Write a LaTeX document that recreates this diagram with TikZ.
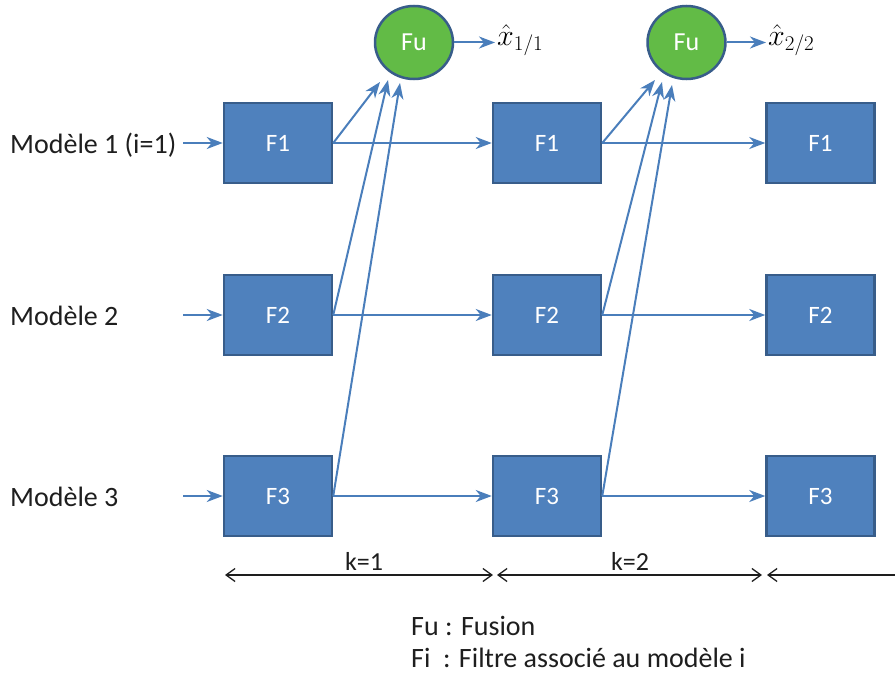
\RequirePackage{fix-cm}
\documentclass[tikz,border=0pt]{standalone}
\usepackage{fontspec}
\setmainfont{Carlito}
\usetikzlibrary{arrows.meta,shapes.geometric}
\definecolor{boxfill}{HTML}{4F81BD}
\definecolor{boxdraw}{HTML}{385D8A}
\definecolor{arr}{HTML}{4A7EBB}
\definecolor{fugreen}{HTML}{62BB46}
\definecolor{txt}{HTML}{1E1E1E}
\tikzset{dimtip/.tip={Straight Barb[length=9pt,width=13pt,line width=1.3pt]}}
\begin{document}
\begin{tikzpicture}[x=1pt,y=-1pt,
  filt/.style={rectangle, draw=boxdraw, fill=boxfill, line width=2.5pt,
    minimum width=108pt, minimum height=80pt, inner sep=0pt, text=white,
    font=\fontsize{25}{28}\selectfont},
  fus/.style={ellipse, draw=boxdraw, fill=fugreen, line width=2.5pt,
    minimum width=78pt, minimum height=73pt, inner sep=0pt, text=white,
    font=\fontsize{26}{28}\selectfont},
  conn/.style={draw=arr, line width=2pt, -{Stealth[length=16pt,width=12pt,inset=5pt]}},
  dim/.style={draw=txt, line width=1.3pt},
  lbl/.style={text=txt, inner sep=0pt, font=\fontsize{28}{32}\selectfont},
  klbl/.style={text=txt, inner sep=0pt, font=\fontsize{26}{30}\selectfont},
  mlbl/.style={text=black, inner sep=0pt, font=\fontsize{30}{34}\selectfont}]
\useasboundingbox (0,0) rectangle (895,677);

% filters
\foreach \c/\x in {1/278,2/547,3/820.5}{
  \node[filt] (f1\c) at (\x,143) {F1};
  \node[filt] (f2\c) at (\x,315) {F2};
  \node[filt] (f3\c) at (\x,496) {F3};
}

% fusion nodes
\node[fus] (fu1) at (414,42.5) {Fu};
\node[fus] (fu2) at (686.5,42.5) {Fu};

% estimate labels
\node[mlbl, anchor=west] (x1) at (497,40) {$\hat{x}_{1/1}$};
\node[mlbl, anchor=west] (x2) at (768,40) {$\hat{x}_{2/2}$};
\draw[conn] (fu1.east) -- ([xshift=-2pt]x1.west |- fu1.east);
\draw[conn] (fu2.east) -- ([xshift=-2pt]x2.west |- fu2.east);

% model labels
\node[lbl, anchor=west] (m1) at (10,145) {Modèle 1 (i=1)};
\node[lbl, anchor=west] (m2) at (10,316) {Modèle 2};
\node[lbl, anchor=west] (m3) at (10,497) {Modèle 3};
\coordinate (s1) at (183,143);
\coordinate (s2) at (183,315);
\coordinate (s3) at (183,496);
\draw[conn] (s1) -- (f11.west);
\draw[conn] (s2) -- (f21.west);
\draw[conn] (s3) -- (f31.west);

% horizontal transitions
\foreach \r in {1,2,3}{
  \draw[conn] (f\r1.east) -- (f\r2.west);
  \draw[conn] (f\r2.east) -- (f\r3.west);
}

% arrow ends at fusion nodes
\coordinate (a11) at (380,82);
\coordinate (a21) at (388,80);
\coordinate (a31) at (400,83);
\coordinate (a12) at (655,80);
\coordinate (a22) at (662,82);
\coordinate (a32) at (672,85);
\foreach \r in {1,2,3}{
  \draw[conn] (f\r1.east) -- (a\r1);
  \draw[conn] (f\r2.east) -- (a\r2);
}

% time axis
\coordinate (d0) at (225,575);
\coordinate (d1) at (493,575);
\coordinate (d2) at (497,575);
\coordinate (d3) at (762,575);
\coordinate (d4) at (767,575);
\coordinate (d5) at (897,575);
\draw[dim, {dimtip}-{dimtip}] (d0) -- (d1);
\draw[dim, {dimtip}-{dimtip}] (d2) -- (d3);
\draw[dim, {dimtip}-] (d4) -- (d5);
\node[klbl, anchor=base] (k1) at (364,570) {k=1};
\node[klbl, anchor=base] (k2) at (630,570) {k=2};

% legend
\node[lbl, anchor=base west] (l1) at (411,635) {Fu : Fusion};
\node[lbl, anchor=base west] (l2) at (411,667) {Fi\hspace{0.45em}: Filtre associé au modèle i};
\end{tikzpicture}
\end{document}
